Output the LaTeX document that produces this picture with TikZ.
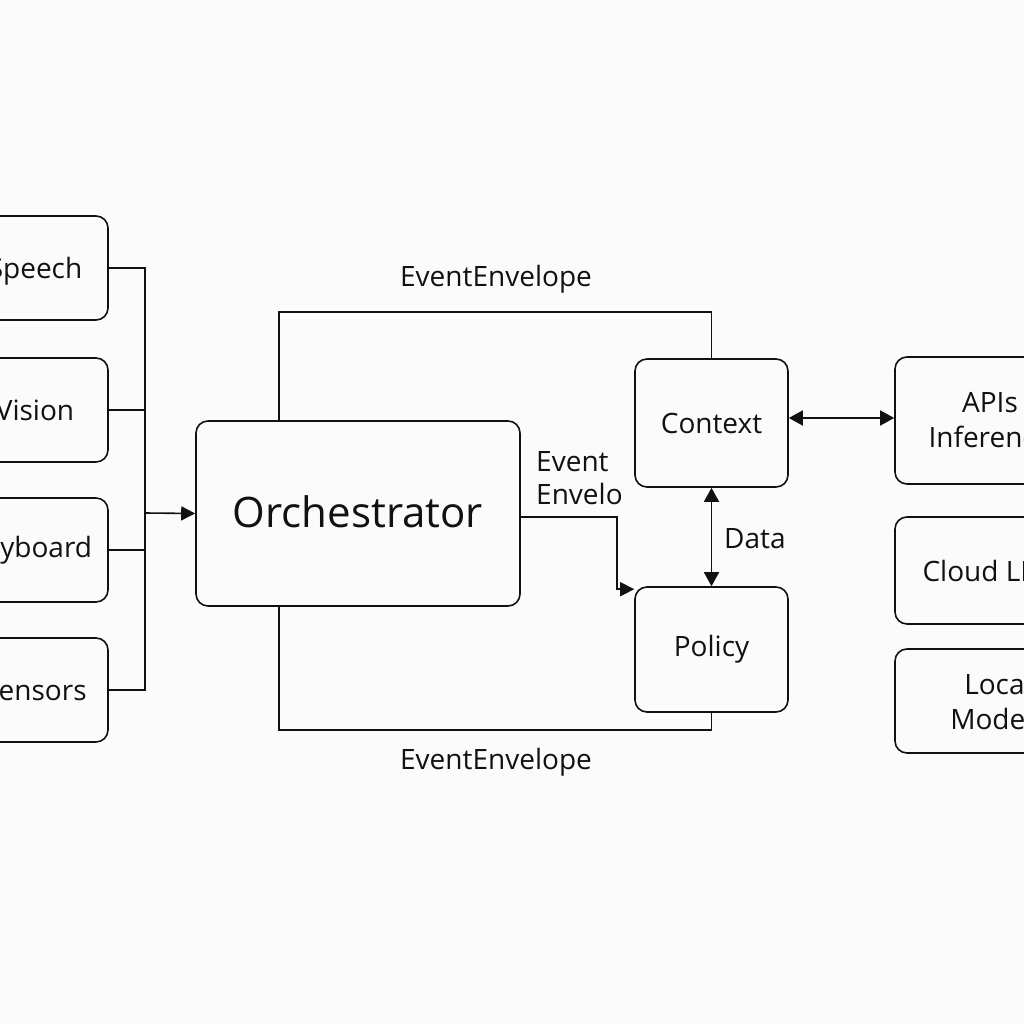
\documentclass[tikz,border=0pt]{standalone}
\usepackage{fontspec}
\setmainfont{Open Sans}
\usetikzlibrary{arrows.meta,calc}
\definecolor{bg}{HTML}{FBFBFB}
\definecolor{ink}{HTML}{111111}
\tikzset{
  box/.style={draw=ink, line width=1.6pt, rounded corners=12pt, align=center, text=ink,
    font={\fontsize{28}{35}\selectfont}, inner sep=0pt},
  conn/.style={draw=ink, line width=1.6pt},
  arr/.style={conn, -{Triangle[length=14pt,width=14pt]}},
  darr/.style={conn, {Triangle[length=14pt,width=15pt]}-{Triangle[length=14pt,width=15pt]}},
  lbl/.style={text=ink, font={\fontsize{28}{33}\selectfont}, inner sep=0pt, align=left}
}
\begin{document}
\begin{tikzpicture}[x=1pt,y=-1pt]
\useasboundingbox (0,0) rectangle (1024,1024);
\fill[bg] (0,0) rectangle (1024,1024);
\clip (0,0) rectangle (1024,1024);
% left inputs
\node[box, minimum width=146pt, minimum height=104pt, text depth=0pt, text height=20pt] (speech) at (35,268) {Speech};
\node[box, minimum width=146pt, minimum height=104pt] (vision) at (35,410) {Vision};
\node[box, minimum width=156pt, minimum height=104pt] (keyboard) at (30,550) {Keyboard};
\node[box, minimum width=146pt, minimum height=104pt] (sensors) at (35,690) {Sensors};
\coordinate (bus) at (145,513);
% center
\node[box, minimum width=324pt, minimum height=185pt, font={\fontsize{42}{50}\selectfont}, text height=30pt, text depth=2pt] (orch) at (358,513.5) {Orchestrator};
\node[box, minimum width=153pt, minimum height=128pt] (ctx) at (711.5,423) {Context};
\node[box, minimum width=153pt, minimum height=125pt] (pol) at (711.5,649.5) {Policy};
% right
\node[box, minimum width=190pt, minimum height=127pt] (apis) at (990,420.5) {APIs\\Inference};
\node[box, minimum width=206pt, minimum height=107pt] (cloud) at (998,570.5) {Cloud LLMs};
\node[box, minimum width=206pt, minimum height=104pt] (local) at (998,701) {Local\\Models};
% bus connectors
\draw[conn] (speech.east) -- (speech.east -| bus) -- (sensors.east -| bus) -- (sensors.east);
\draw[conn] (vision.east) -- (vision.east -| bus);
\draw[conn] (keyboard.east) -- (keyboard.east -| bus);
\draw[arr] (bus) -- (orch.west);
% loops
\draw[conn] ([xshift=84pt]orch.north west) -- ++(0,-108) -| (ctx.north);
\draw[conn] ([xshift=84pt]orch.south west) -- ++(0,123) -| (pol.south);
\node[lbl] (toplbl) at (496,279) {EventEnvelope};
\node[lbl] (botlbl) at (496,762) {EventEnvelope};
% orchestrator to policy
\draw[arr] ([yshift=-3.5pt]orch.east) -- ++(96,0) |- ([yshift=-3pt]pol.north west);
\node[lbl, anchor=west] (evlbl) at (536,478) {Event\\Envelo};
% data
\draw[darr] (ctx.south) -- (pol.north);
\node[lbl, anchor=west] (datalbl) at (724,539) {Data};
% context - apis
\draw[darr] ([yshift=5pt]ctx.east) -- ([yshift=5pt]ctx.east -| apis.west);
\end{tikzpicture}
\end{document}
